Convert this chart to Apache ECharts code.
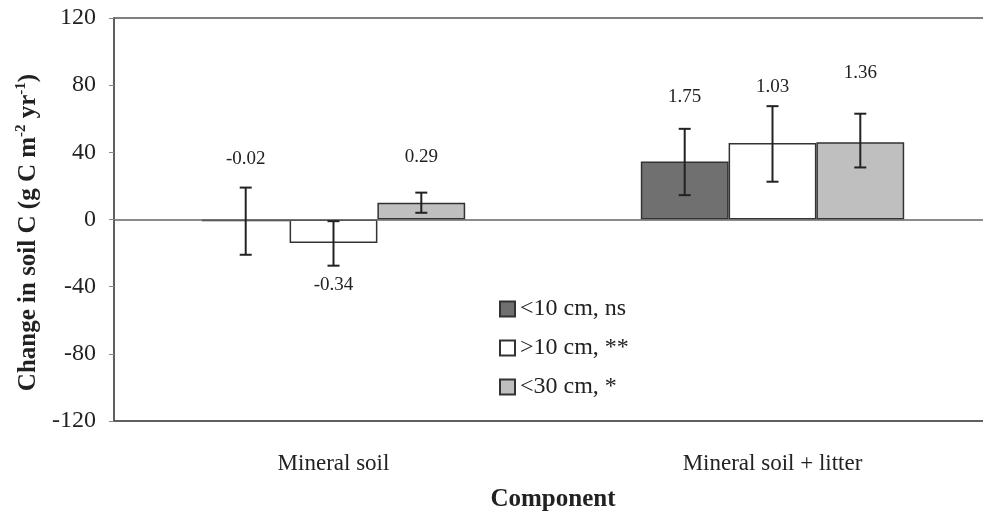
<!DOCTYPE html>
<html><head><meta charset="utf-8">
<script src="https://cdn.jsdelivr.net/npm/echarts@6/dist/echarts.min.js"></script>
<style>html,body{margin:0;padding:0;background:#fff}#c{width:983px;height:512px}</style>
</head><body><div id="c"></div>
<script>
const categories = ['Mineral soil', 'Mineral soil + litter'];
const seriesNames = ['<10 cm, ns', '>10 cm, **', '<30 cm, *'];
const yTicks = [-120, -80, -40, 0, 40, 80, 120];
const meanLt10 = [-1, 34.5];
const meanGt10 = [-14, 45.5];
const meanLt30 = [10, 46];
const lowLt10 = [-21, 14.5], highLt10 = [19, 54];
const lowGt10 = [-27.5, 22.5], highGt10 = [-1, 67.5];
const lowLt30 = [4, 31], highLt30 = [16, 63];
const labelLt10 = ['-0.02', '1.75'];
const labelGt10 = ['-0.34', '1.03'];
const labelLt30 = ['0.29', '1.36'];
const labelYLt10 = [36, 73];
const labelYGt10 = [-39, 79];
const labelYLt30 = [37, 87];

const FONT = '"Liberation Serif", "Times New Roman", serif';
const colors = ['#707070', '#ffffff', '#bfbfbf'];
const means = [meanLt10, meanGt10, meanLt30];
const lows = [lowLt10, lowGt10, lowLt30];
const highs = [highLt10, highGt10, highLt30];
const labs = [labelLt10, labelGt10, labelLt30];
const labYs = [labelYLt10, labelYGt10, labelYLt30];

const chart = echarts.init(document.getElementById('c'));
const series = [];
seriesNames.forEach((n, s) => {
  series.push({
    name: n, type: 'bar', data: means[s], barWidth: '20%', barGap: '0%',
    itemStyle: { color: colors[s], borderColor: '#333', borderWidth: 1.5 },
    markLine: s === 0 ? { silent: true, symbol: 'none', label: { show: false },
      lineStyle: { color: '#666', width: 1.5, type: 'solid' }, data: [{ yAxis: 0 }] } : undefined,
    z: 2
  });
});
seriesNames.forEach((n, s) => {
  series.push({
    name: 'err' + s, type: 'custom', z: 5,
    data: categories.map((c, i) => [i, lows[s][i], highs[s][i], labYs[s][i]]),
    renderItem: (params, api) => {
      const i = api.value(0);
      const bw = api.size([1, 0])[0] * 0.2;
      const off = (s - 1) * bw;
      const lo = api.coord([i, api.value(1)]);
      const hi = api.coord([i, api.value(2)]);
      const lp = api.coord([i, api.value(3)]);
      const x = lo[0] + off;
      const cap = 6;
      const st = { stroke: '#222', lineWidth: 2 };
      return { type: 'group', children: [
        { type: 'line', shape: { x1: x, y1: lo[1], x2: x, y2: hi[1] }, style: st },
        { type: 'line', shape: { x1: x - cap, y1: lo[1], x2: x + cap, y2: lo[1] }, style: st },
        { type: 'line', shape: { x1: x - cap, y1: hi[1], x2: x + cap, y2: hi[1] }, style: st },
        { type: 'text', x: x, y: lp[1], style: { text: labs[s][i], font: '19px ' + FONT,
          fill: '#222', align: 'center', verticalAlign: 'middle' } }
      ] };
    }
  });
});

chart.setOption({
  animation: false,
  backgroundColor: '#fff',
  grid: { left: 114, top: 18, height: 403, width: 878, show: true, borderColor: '#555', borderWidth: 1.5,
    containLabel: false, outerBoundsMode: 'none' },
  legend: {
    data: seriesNames, orient: 'vertical', left: 494, top: 292, itemWidth: 15, itemHeight: 15, itemGap: 15,
    icon: 'rect', textStyle: { fontFamily: FONT, fontSize: 24, color: '#222' }
  },
  xAxis: {
    type: 'category', data: categories, position: 'bottom',
    axisLine: { onZero: false, lineStyle: { color: '#555', width: 1.5 } },
    axisTick: { show: false },
    axisLabel: { fontFamily: FONT, fontSize: 23, color: '#222', margin: 31 },
    name: 'Component', nameLocation: 'middle', nameGap: 66,
    nameTextStyle: { fontFamily: FONT, fontSize: 25, fontWeight: 'bold', color: '#222' }
  },
  yAxis: {
    type: 'value', min: -120, max: 120, interval: 40,
    axisLine: { show: true, lineStyle: { color: '#555', width: 1.5 } },
    axisTick: { show: true, length: 5, lineStyle: { color: '#888' } },
    splitLine: { show: false },
    axisLabel: { fontFamily: FONT, fontSize: 24, color: '#222', margin: 18,
      formatter: v => yTicks.includes(v) ? String(v) : '' },
    name: 'Change in soil C (g C m{sup|-2} yr{sup|-1})', nameLocation: 'middle', nameGap: 68, nameRotate: 90,
    nameTextStyle: { fontFamily: FONT, fontSize: 25, fontWeight: 'bold', color: '#222', padding: [0, 26, 0, 0],
      rich: { sup: { fontFamily: FONT, fontSize: 15, fontWeight: 'bold', color: '#222', padding: [0, 0, 15, 0] } } }
  },
  series: series
});
</script></body></html>
